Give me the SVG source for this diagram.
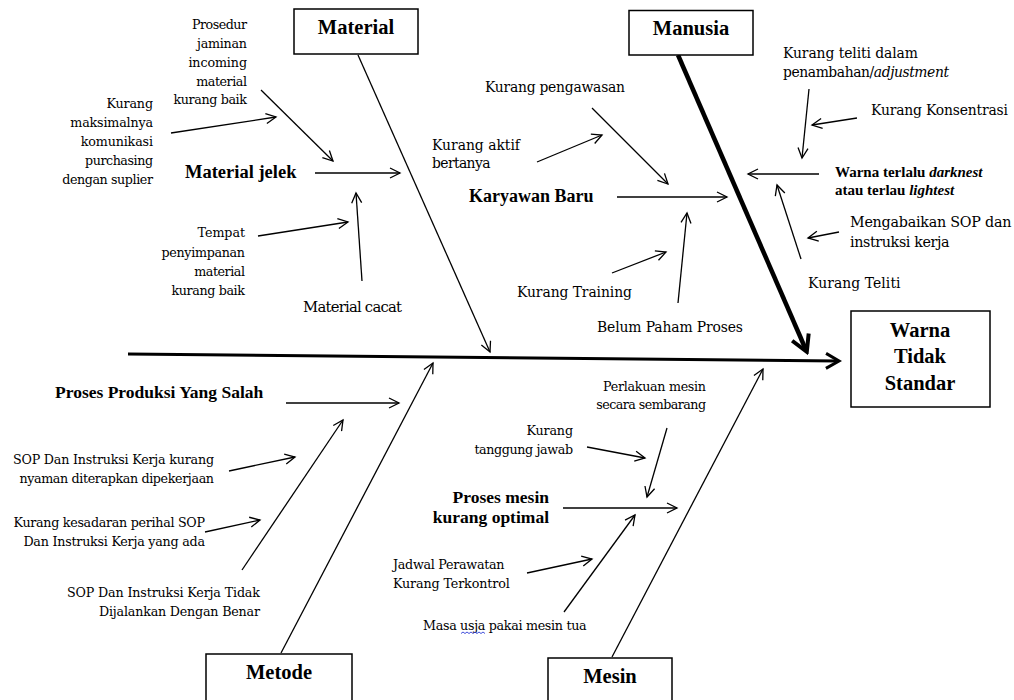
<svg xmlns="http://www.w3.org/2000/svg" width="1014" height="700" viewBox="0 0 1014 700">
<defs>
<style>
text{font-family:"Liberation Serif","Times New Roman",serif;fill:#000}
.s,.m,.r{font-family:"DejaVu Serif","Liberation Serif",serif}
.s{font-size:12.7px}
.m{font-size:13.9px}
.b{font-weight:bold}
.h{font-size:20.5px;font-weight:bold}
.e{text-anchor:end}
.c{text-anchor:middle}
.box{fill:#fff;stroke:#000;stroke-width:1.5}
.ln{stroke:#000;stroke-width:1.3;fill:none;marker-end:url(#ar)}
</style>
<marker id="ar" viewBox="-1 -1 13 12" refX="10" refY="5" markerWidth="13" markerHeight="12" markerUnits="userSpaceOnUse" orient="auto"><path d="M0,0 L10,5 L0,10" fill="none" stroke="#000" stroke-width="1.3"/></marker>
<marker id="arS" viewBox="-2 -2 18 20" refX="12" refY="7.5" markerWidth="18" markerHeight="20" markerUnits="userSpaceOnUse" orient="auto"><path d="M0,0 L13,7.5 L0,15" fill="none" stroke="#000" stroke-width="3"/></marker>
<marker id="arM" viewBox="-3 -3 22 24" refX="14" refY="9" markerWidth="22" markerHeight="24" markerUnits="userSpaceOnUse" orient="auto"><path d="M0,0 L16,9 L0,18" fill="none" stroke="#000" stroke-width="4"/></marker>
</defs>
<rect width="1014" height="700" fill="#fff"/>

<g id="connectors">
<line x1="128" y1="354" x2="838" y2="361" stroke="#000" stroke-width="3" marker-end="url(#arS)"/>
<line x1="678" y1="55" x2="806" y2="350" stroke="#000" stroke-width="4.5" marker-end="url(#arM)"/>
<line class="ln" x1="358" y1="55" x2="490" y2="352"/>
<line class="ln" x1="281" y1="653" x2="433" y2="363"/>
<line class="ln" x1="612" y1="657" x2="763" y2="369"/>
<line class="ln" x1="261" y1="90" x2="333" y2="161"/>
<line class="ln" x1="171" y1="133" x2="276" y2="117"/>
<line class="ln" x1="315" y1="173" x2="400" y2="173"/>
<line class="ln" x1="258" y1="236" x2="348" y2="222"/>
<line class="ln" x1="362" y1="281" x2="356" y2="193"/>
<line class="ln" x1="537" y1="162" x2="602" y2="135"/>
<line class="ln" x1="592" y1="108" x2="668" y2="184"/>
<line class="ln" x1="617" y1="197" x2="727" y2="197"/>
<line class="ln" x1="612" y1="273" x2="666" y2="252"/>
<line class="ln" x1="678" y1="303" x2="687" y2="213"/>
<line class="ln" x1="809" y1="89" x2="802" y2="158"/>
<line class="ln" x1="857" y1="118" x2="812" y2="125"/>
<line class="ln" x1="819" y1="174" x2="748" y2="174"/>
<line class="ln" x1="839" y1="232" x2="808" y2="238"/>
<line class="ln" x1="801" y1="259" x2="777" y2="185"/>
<line class="ln" x1="286" y1="403" x2="399" y2="403"/>
<line class="ln" x1="229" y1="471" x2="295" y2="457"/>
<line class="ln" x1="205" y1="532" x2="260" y2="520"/>
<line class="ln" x1="242" y1="570" x2="343" y2="420"/>
<line class="ln" x1="667" y1="428" x2="647" y2="497"/>
<line class="ln" x1="587" y1="447" x2="645" y2="458"/>
<line class="ln" x1="563" y1="508" x2="677" y2="508"/>
<line class="ln" x1="527" y1="573" x2="592" y2="559"/>
<line class="ln" x1="564" y1="612" x2="635" y2="515"/>
</g>

<g id="material">
<rect class="box" x="294" y="9" width="124" height="45"/>
<text class="h c" x="356" y="34">Material</text>
</g>
<g id="manusia">
<rect class="box" x="629" y="10.5" width="124" height="44.5"/>
<text class="h c" x="691" y="35">Manusia</text>
</g>
<g id="metode">
<rect class="box" x="206" y="654" width="146" height="60"/>
<text class="h c" x="279" y="679">Metode</text>
</g>
<g id="mesin">
<rect class="box" x="548" y="658" width="124" height="60"/>
<text class="h c" x="610" y="683">Mesin</text>
</g>
<g id="effect">
<rect class="box" x="851" y="311" width="139" height="96"/>
<text class="h c" x="920" y="337">Warna</text>
<text class="h c" x="920" y="363">Tidak</text>
<text class="h c" x="920" y="390">Standar</text>
</g>

<g id="material-causes">
<text class="s e" x="247" y="29" textLength="55">Prosedur</text>
<text class="s e" x="247" y="48" textLength="50">jaminan</text>
<text class="s e" x="247" y="67" textLength="58.6">incoming</text>
<text class="s e" x="247" y="86" textLength="50.8">material</text>
<text class="s e" x="247" y="104" textLength="73.6">kurang baik</text>
<text class="s e" x="153" y="108" textLength="46.5">Kurang</text>
<text class="s e" x="153" y="127" textLength="82.7">maksimalnya</text>
<text class="s e" x="153" y="146" textLength="72.3">komunikasi</text>
<text class="s e" x="153" y="165" textLength="68">purchasing</text>
<text class="s e" x="153" y="184" textLength="90.8">dengan suplier</text>
<text class="b" style="font-size:18.5px" x="185" y="178">Material jelek</text>
<text class="s e" x="245" y="237" textLength="47.4">Tempat</text>
<text class="s e" x="245" y="257" textLength="83.5">penyimpanan</text>
<text class="s e" x="245" y="276" textLength="50.8">material</text>
<text class="s e" x="245" y="295" textLength="73.6">kurang baik</text>
<text class="r" style="font-size:14.8px" x="303" y="312" textLength="99">Material cacat</text>
</g>

<g id="manusia-causes">
<text class="m" x="485" y="92" textLength="140">Kurang pengawasan</text>
<text class="m" x="432" y="150" textLength="88">Kurang aktif</text>
<text class="m" x="432" y="168" textLength="58.5">bertanya</text>
<text class="b" style="font-size:18px" x="469" y="202">Karyawan Baru</text>
<text class="m" x="517" y="297" textLength="115">Kurang Training</text>
<text class="m" x="597" y="332" textLength="146">Belum Paham Proses</text>
<text class="m" x="783" y="58" textLength="135">Kurang teliti dalam</text>
<text class="m" x="783" y="77" textLength="166">penambahan/<tspan font-style="italic">adjustment</tspan></text>
<text class="m" x="871" y="115" textLength="137">Kurang Konsentrasi</text>
<text class="b" style="font-size:15px" x="835" y="177">Warna terlalu <tspan font-style="italic">darknest</tspan></text>
<text class="b" style="font-size:15px" x="835" y="195">atau terlau <tspan font-style="italic">lightest</tspan></text>
<text class="r" style="font-size:14.3px" x="850" y="227" textLength="161.4">Mengabaikan SOP dan</text>
<text class="r" style="font-size:14.3px" x="850" y="247" textLength="99.6">instruksi kerja</text>
<text class="m" x="808" y="288" textLength="92.5">Kurang Teliti</text>
</g>

<g id="metode-causes">
<text class="b" style="font-size:17.5px" x="55" y="398">Proses Produksi Yang Salah</text>
<text class="s e" x="214" y="464" textLength="201">SOP Dan Instruksi Kerja kurang</text>
<text class="s e" x="214" y="483" textLength="194.6">nyaman diterapkan dipekerjaan</text>
<text class="s e" x="205" y="527" textLength="191.5">Kurang kesadaran perihal SOP</text>
<text class="s e" x="205" y="546" textLength="181.6">Dan Instruksi Kerja yang ada</text>
<text class="s e" x="260" y="597" textLength="193">SOP Dan Instruksi Kerja Tidak</text>
<text class="s e" x="260" y="616" textLength="161">Dijalankan Dengan Benar</text>
</g>

<g id="mesin-causes">
<text class="s e" x="706" y="391" textLength="102.9">Perlakuan mesin</text>
<text class="s e" x="706" y="409" textLength="109.7">secara sembarang</text>
<text class="s e" x="573" y="435" textLength="46.5">Kurang</text>
<text class="s e" x="573" y="454" textLength="98.6">tanggung jawab</text>
<text class="b e" style="font-size:17.5px" x="549" y="503">Proses mesin</text>
<text class="b e" style="font-size:17.5px" x="549" y="523">kurang optimal</text>
<text class="s" x="393" y="569" textLength="111.5">Jadwal Perawatan</text>
<text class="s" x="393" y="588" textLength="116.7">Kurang Terkontrol</text>
<text class="s" x="423" y="630" textLength="163.6">Masa usja pakai mesin tua</text>
<path d="M461,633.5 l2,-1.5 l2,1.5 l2,-1.5 l2,1.5 l2,-1.5 l2,1.5 l2,-1.5 l2,1.5 l2,-1.5 l2,1.5 l2,-1.5 l2,1.5" fill="none" stroke="#2b3bd6" stroke-width="0.9"/>
</g>
</svg>
